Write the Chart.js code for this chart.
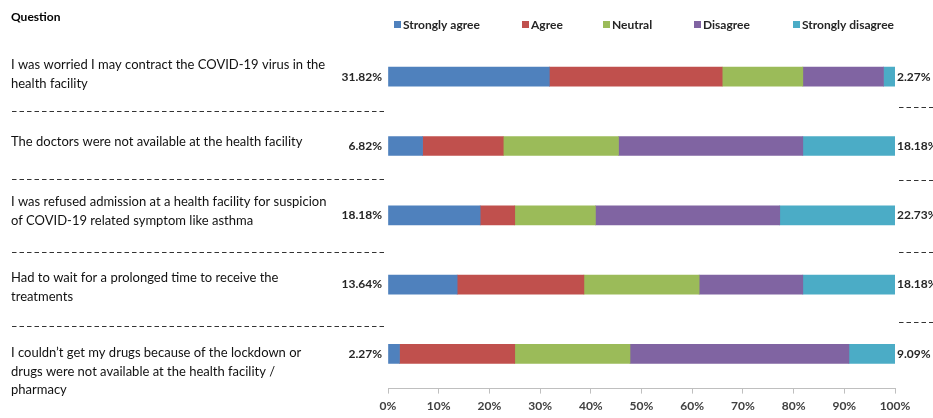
<!DOCTYPE html>
<html>
<head>
<meta charset="utf-8">
<script src="https://cdn.jsdelivr.net/npm/chart.js@4.4.1/dist/chart.umd.min.js"></script>
<style>
  html, body { margin: 0; padding: 0; background: #fff; }
  #wrap { width: 933px; height: 418px; }
</style>
</head>
<body>
<div id="wrap"><canvas id="likert" width="933" height="418"></canvas></div>
<script>
// survey questions, one entry per row (each entry = wrapped lines)
var questions = [
    ['I was worried I may contract the COVID-19 virus in the', 'health facility'],
    ['The doctors were not available at the health facility'],
    ['I was refused admission at a health facility for suspicion', 'of COVID-19 related symptom like asthma'],
    ['Had to wait for a prolonged time to receive the', 'treatments'],
    ['I couldn\u2019t get my drugs because of the lockdown or', 'drugs were not available at the health facility /', 'pharmacy']
];
var responses = ['Strongly agree', 'Agree', 'Neutral', 'Disagree', 'Strongly disagree'];

// percentages per question
var stronglyAgree = [31.82, 6.82, 18.18, 13.64, 2.27];
var agree = [34.09, 15.91, 6.82, 25.00, 22.73];
var neutral = [15.91, 22.73, 15.91, 22.73, 22.73];
var disagree = [15.91, 36.36, 36.36, 20.45, 43.18];
var stronglyDisagree = [2.27, 18.18, 22.73, 18.18, 9.09];

var xTicks = [0, 10, 20, 30, 40, 50, 60, 70, 80, 90, 100];

var colors = ['#4F81BD', '#C0504D', '#9BBB59', '#8064A2', '#4BACC6'];
var FONT = 'Lato, "Liberation Sans", sans-serif';

var series = [stronglyAgree, agree, neutral, disagree, stronglyDisagree];
var datasets = [];
for (var i = 0; i < responses.length; i++) {
    datasets.push({
        label: responses[i],
        data: series[i],
        backgroundColor: colors[i],
        borderWidth: 0,
        barThickness: 19
    });
}

// question text, dashed separators, end labels and legend
var decorations = {
    id: 'decorations',
    afterDraw: function (chart, args, opts) {
        var ctx = chart.ctx;
        var area = chart.chartArea;
        ctx.save();

        ctx.fillStyle = '#000';
        ctx.font = 'bold 12px ' + FONT;
        ctx.textAlign = 'left';
        ctx.textBaseline = 'middle';
        ctx.fillText('Question', 11, 17);

        // legend
        ctx.font = 'bold 12px ' + FONT;
        for (var i = 0; i < responses.length; i++) {
            var lx = opts.legendX[i];
            ctx.fillStyle = colors[i];
            ctx.fillRect(lx, 21, 7, 7);
            ctx.fillStyle = '#262626';
            ctx.fillText(responses[i], lx + 9, 25);
        }

        // question text
        ctx.font = '13px ' + FONT;
        ctx.fillStyle = '#111';
        for (var q = 0; q < questions.length; q++) {
            for (var l = 0; l < questions[q].length; l++) {
                ctx.fillText(questions[q][l], 11, opts.textTop[q] + l * 18.5);
            }
        }

        // separators
        ctx.strokeStyle = '#333';
        ctx.lineWidth = 1;
        ctx.setLineDash([4.5, 3]);
        opts.leftSep.forEach(function (y) {
            ctx.beginPath();
            ctx.moveTo(12, y + 0.5);
            ctx.lineTo(386, y + 0.5);
            ctx.stroke();
        });
        opts.rightSep.forEach(function (y) {
            ctx.beginPath();
            ctx.moveTo(899, y + 0.5);
            ctx.lineTo(933, y + 0.5);
            ctx.stroke();
        });
        ctx.setLineDash([]);

        // value labels at both ends of each bar
        ctx.font = 'bold 12px ' + FONT;
        ctx.fillStyle = '#262626';
        var first = chart.getDatasetMeta(0).data;
        var last = chart.getDatasetMeta(responses.length - 1).data;
        for (var r = 0; r < first.length; r++) {
            ctx.textAlign = 'right';
            ctx.fillText(stronglyAgree[r].toFixed(2) + '%', area.left - 6, first[r].y);
            ctx.textAlign = 'left';
            ctx.fillText(stronglyDisagree[r].toFixed(2) + '%', area.right + 2, last[r].y);
        }
        ctx.restore();
    }
};

var ctx = document.getElementById('likert');
var likertChart = new Chart(ctx, {
    type: 'bar',
    data: {
        labels: questions.map(function (q) { return q.join(' '); }),
        datasets: datasets
    },
    options: {
        indexAxis: 'y',
        responsive: false,
        animation: false,
        devicePixelRatio: 1,
        layout: {
            padding: { left: 388, right: 38, top: 42, bottom: 0 }
        },
        scales: {
            x: {
                stacked: true,
                min: 0,
                max: 100,
                afterBuildTicks: function (axis) {
                    axis.ticks = xTicks.map(function (v) { return { value: v }; });
                },
                border: { color: '#bfbfbf' },
                grid: { drawOnChartArea: false, color: '#bfbfbf', tickLength: 5 },
                ticks: {
                    padding: 5,
                    color: '#404040',
                    font: { family: FONT, size: 12, weight: 'bold' },
                    callback: function (v) { return v + '%'; }
                }
            },
            y: {
                stacked: true,
                display: false
            }
        },
        plugins: {
            legend: { display: false },
            tooltip: { enabled: false },
            decorations: {
                legendX: [394, 522, 603, 694, 793],
                textTop: [65, 142, 202, 278, 353],
                leftSep: [111, 179, 252, 326],
                rightSep: [107, 180, 252, 322]
            }
        }
    },
    plugins: [decorations]
});
</script>
</body>
</html>
